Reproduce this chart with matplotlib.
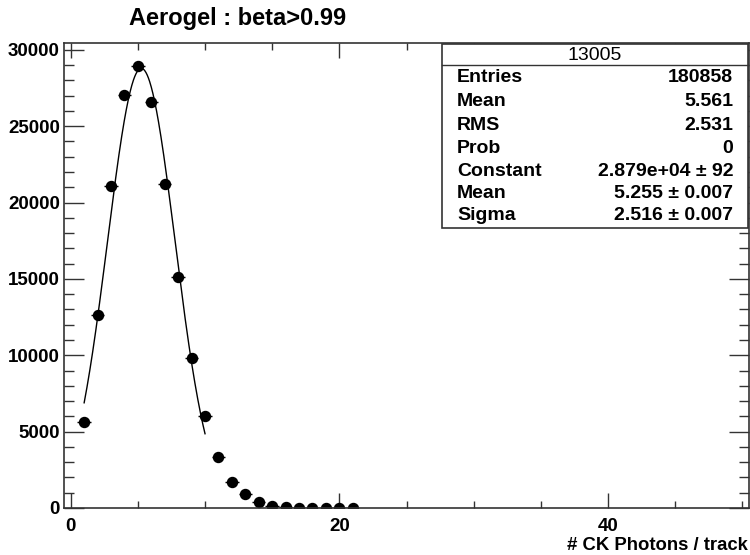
import numpy as np
import matplotlib
matplotlib.use("Agg")
import matplotlib.pyplot as plt
from matplotlib.patches import Rectangle
from matplotlib.lines import Line2D
from matplotlib.ticker import MultipleLocator

# ---- data ----
x_vals = [1, 2, 3, 4, 5, 6, 7, 8, 9, 10, 11, 12, 13, 14, 15, 16, 17, 18, 19, 20, 21]
counts = [5612, 12632, 21100, 27060, 28970, 26580, 21200, 15150, 9825, 6010,
          3310, 1690, 900, 370, 150, 45, 18, 8, 4, 2, 1]
fit_const, fit_mean, fit_sigma = 2.879e4, 5.255, 2.516
fit_range = (1.0, 10.0)
title = "Aerogel : beta>0.99"
xlabel = "# CK Photons / track"
stats_title = "13005"
stats_names = ["Entries", "Mean", "RMS", "Prob", "Constant", "Mean", "Sigma"]
stats_values = ["180858", "5.561", "2.531", "0", "2.879e+04 \u00b1 92",
                "5.255 \u00b1 0.007", "2.516 \u00b1 0.007"]

W, H = 750, 555
plt.rcParams['font.family'] = ['Liberation Sans', 'DejaVu Sans']
plt.rcParams['font.weight'] = 'bold'

fig = plt.figure(figsize=(W / 100, H / 100), dpi=100)
L, R, T, B = 64, 749, 43, 508
ax = fig.add_axes([L / W, 1 - B / H, (R - L) / W, (B - T) / H])

x = np.array(x_vals, dtype=float)
y = np.array(counts, dtype=float)
ax.errorbar(x, y, xerr=0.5, yerr=np.sqrt(y), fmt='o', color='black',
            markersize=7.2, elinewidth=1.0, capsize=0)

xf = np.linspace(fit_range[0], fit_range[1], 300)
yf = fit_const * np.exp(-0.5 * ((xf - fit_mean) / fit_sigma) ** 2)
ax.plot(xf, yf, color='black', lw=1.0)

ax.set_xlim(-0.5, 50.5)
ax.set_ylim(0, 30450)

ax.xaxis.set_major_locator(MultipleLocator(20))
ax.xaxis.set_minor_locator(MultipleLocator(5))
ax.yaxis.set_major_locator(MultipleLocator(5000))
ax.yaxis.set_minor_locator(MultipleLocator(1000))

ax.tick_params(which='both', direction='in', top=True, right=True,
               labelsize=13.5, width=1.0, color='#333333')
ax.tick_params(axis='x', which='major', length=10.5, pad=7)
ax.tick_params(axis='x', which='minor', length=5)
ax.tick_params(axis='y', which='major', length=14.5, pad=3)
ax.tick_params(axis='y', which='minor', length=7.5)
for lab in ax.get_xticklabels() + ax.get_yticklabels():
    lab.set_fontweight('bold')
for s in ax.spines.values():
    s.set_linewidth(1.2)
    s.set_color('#333333')

fig.text(238 / W, 1 - 18 / H, title, ha='center', va='center',
         fontsize=17, fontweight='bold')
fig.text(748 / W, 1 - 550 / H, xlabel, ha='right', va='baseline',
         fontsize=13.3, fontweight='bold')

# stats box
bx0, bx1, by0, by1 = 442, 748, 44, 228
fig.add_artist(Rectangle((bx0 / W, 1 - by1 / H), (bx1 - bx0) / W, (by1 - by0) / H,
                         transform=fig.transFigure, facecolor='white',
                         edgecolor='#333333', lw=1.2, zorder=5))
fig.add_artist(Line2D([bx0 / W, bx1 / W], [1 - 65 / H, 1 - 65 / H],
                      transform=fig.transFigure, color='#333333', lw=1.0, zorder=6))
fig.text((bx0 + bx1) / 2 / W, 1 - 55 / H, stats_title, ha='center', va='center',
         fontsize=14, fontweight='normal', zorder=7)
row_y = [78, 101, 126, 149, 171, 194, 216]
for ry, nm, vl in zip(row_y, stats_names, stats_values):
    fig.text(457 / W, 1 - ry / H, nm, ha='left', va='center', fontsize=14,
             fontweight='bold', zorder=7)
    fig.text(733 / W, 1 - ry / H, vl, ha='right', va='center', fontsize=14,
             fontweight='bold', zorder=7)

fig.savefig("out.png", dpi=100)
